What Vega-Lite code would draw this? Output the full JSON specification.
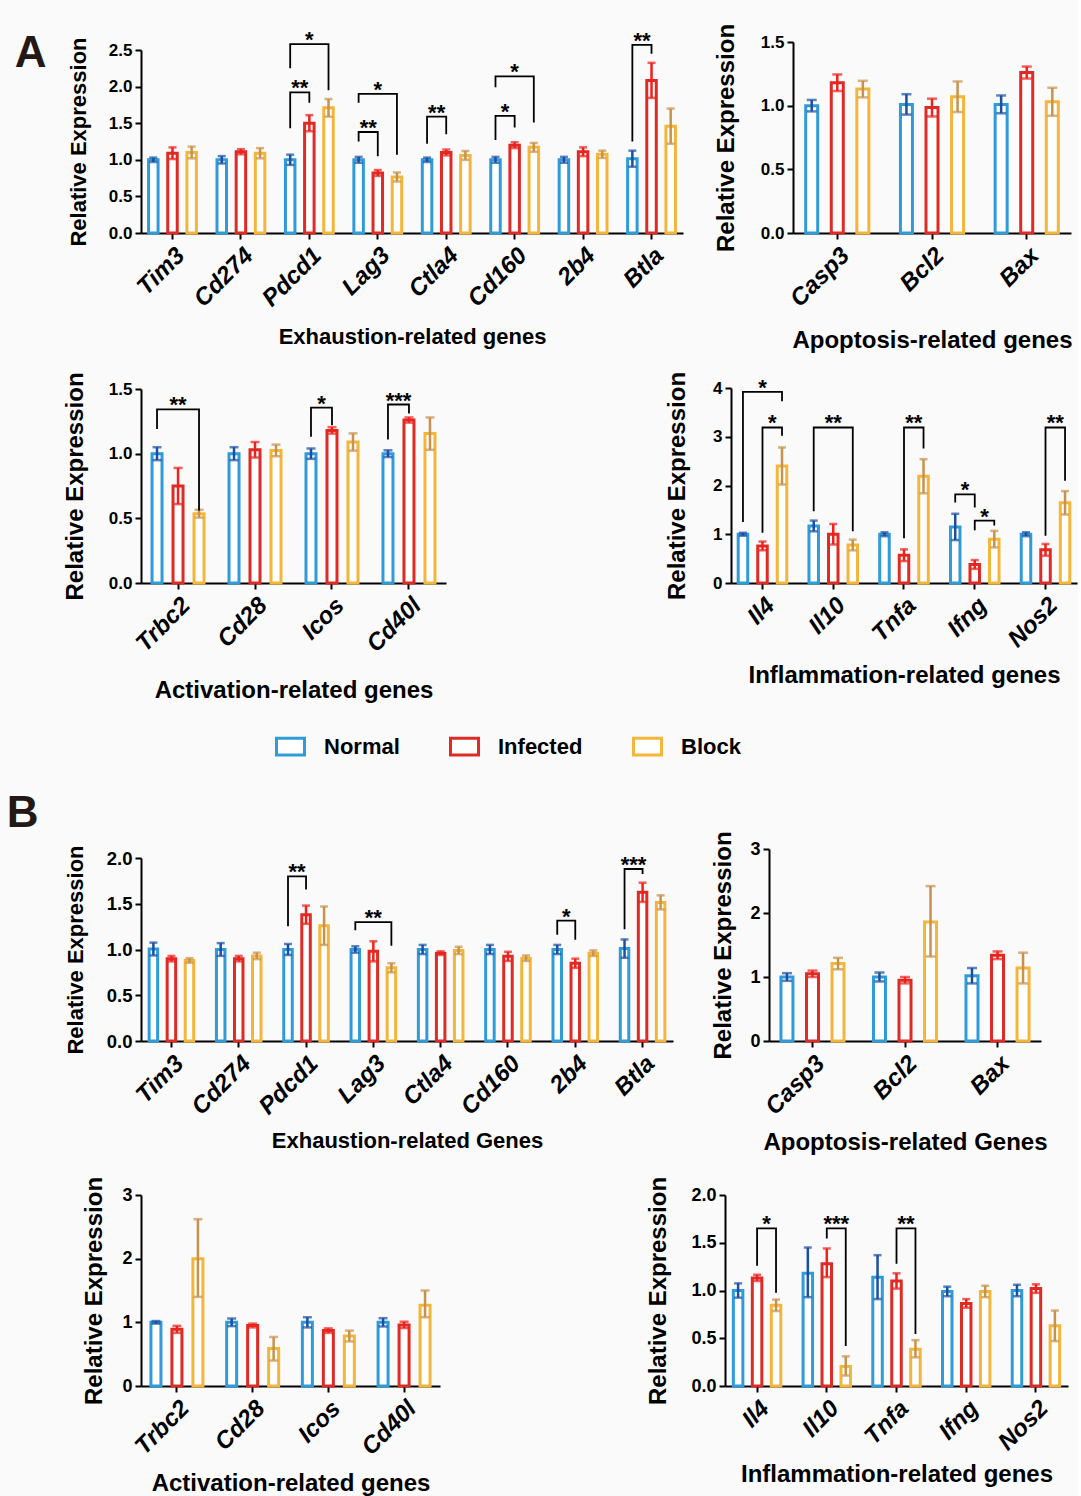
{
"$schema": "https://vega.github.io/schema/vega-lite/v6.json",
"background": "#fafafa",
"padding": {"left": 6, "top": 23, "right": 1, "bottom": 2},
"spacing": 89,
"resolve": {"scale": {"xOffset": "independent"}},
"datasets": {
"exhA": [
{"gene":"Tim3","group":"Normal","value":1.0,"lo":0.97,"hi":1.03},
{"gene":"Tim3","group":"Infected","value":1.09,"lo":1.01,"hi":1.17},
{"gene":"Tim3","group":"Block","value":1.10,"lo":1.02,"hi":1.18},
{"gene":"Cd274","group":"Normal","value":1.0,"lo":0.95,"hi":1.05},
{"gene":"Cd274","group":"Infected","value":1.11,"lo":1.075,"hi":1.145},
{"gene":"Cd274","group":"Block","value":1.09,"lo":1.02,"hi":1.16},
{"gene":"Pdcd1","group":"Normal","value":1.0,"lo":0.93,"hi":1.07},
{"gene":"Pdcd1","group":"Infected","value":1.50,"lo":1.39,"hi":1.61},
{"gene":"Pdcd1","group":"Block","value":1.71,"lo":1.59,"hi":1.83},
{"gene":"Lag3","group":"Normal","value":1.0,"lo":0.96,"hi":1.04},
{"gene":"Lag3","group":"Infected","value":0.82,"lo":0.78,"hi":0.86},
{"gene":"Lag3","group":"Block","value":0.765,"lo":0.705,"hi":0.825},
{"gene":"Ctla4","group":"Normal","value":1.0,"lo":0.97,"hi":1.03},
{"gene":"Ctla4","group":"Infected","value":1.10,"lo":1.06,"hi":1.14},
{"gene":"Ctla4","group":"Block","value":1.06,"lo":1.0,"hi":1.12},
{"gene":"Cd160","group":"Normal","value":1.0,"lo":0.96,"hi":1.04},
{"gene":"Cd160","group":"Infected","value":1.20,"lo":1.16,"hi":1.24},
{"gene":"Cd160","group":"Block","value":1.17,"lo":1.11,"hi":1.23},
{"gene":"2b4","group":"Normal","value":1.0,"lo":0.96,"hi":1.04},
{"gene":"2b4","group":"Infected","value":1.11,"lo":1.05,"hi":1.17},
{"gene":"2b4","group":"Block","value":1.075,"lo":1.025,"hi":1.125},
{"gene":"Btla","group":"Normal","value":1.015,"lo":0.905,"hi":1.125},
{"gene":"Btla","group":"Infected","value":2.085,"lo":1.845,"hi":2.325},
{"gene":"Btla","group":"Block","value":1.46,"lo":1.22,"hi":1.70}
],
"brExhA": [
{"id":"b1","gene":"Pdcd1","group":"Normal","value":1.43,"ord":1},
{"id":"b1","gene":"Pdcd1","group":"Normal","value":1.92,"ord":2},
{"id":"b1","gene":"Pdcd1","group":"Infected","value":1.92,"ord":3},
{"id":"b1","gene":"Pdcd1","group":"Infected","value":1.78,"ord":4},
{"id":"b2","gene":"Pdcd1","group":"Normal","value":2.25,"ord":1},
{"id":"b2","gene":"Pdcd1","group":"Normal","value":2.58,"ord":2},
{"id":"b2","gene":"Pdcd1","group":"Block","value":2.58,"ord":3},
{"id":"b2","gene":"Pdcd1","group":"Block","value":1.95,"ord":4},
{"id":"b3","gene":"Lag3","group":"Normal","value":1.25,"ord":1},
{"id":"b3","gene":"Lag3","group":"Normal","value":1.38,"ord":2},
{"id":"b3","gene":"Lag3","group":"Infected","value":1.38,"ord":3},
{"id":"b3","gene":"Lag3","group":"Infected","value":1.05,"ord":4},
{"id":"b4","gene":"Lag3","group":"Normal","value":1.78,"ord":1},
{"id":"b4","gene":"Lag3","group":"Normal","value":1.90,"ord":2},
{"id":"b4","gene":"Lag3","group":"Block","value":1.90,"ord":3},
{"id":"b4","gene":"Lag3","group":"Block","value":1.07,"ord":4},
{"id":"b5","gene":"Ctla4","group":"Normal","value":1.22,"ord":1},
{"id":"b5","gene":"Ctla4","group":"Normal","value":1.59,"ord":2},
{"id":"b5","gene":"Ctla4","group":"Infected","value":1.59,"ord":3},
{"id":"b5","gene":"Ctla4","group":"Infected","value":1.35,"ord":4},
{"id":"b6","gene":"Cd160","group":"Normal","value":1.27,"ord":1},
{"id":"b6","gene":"Cd160","group":"Normal","value":1.60,"ord":2},
{"id":"b6","gene":"Cd160","group":"Infected","value":1.60,"ord":3},
{"id":"b6","gene":"Cd160","group":"Infected","value":1.44,"ord":4},
{"id":"b7","gene":"Cd160","group":"Normal","value":1.99,"ord":1},
{"id":"b7","gene":"Cd160","group":"Normal","value":2.14,"ord":2},
{"id":"b7","gene":"Cd160","group":"Block","value":2.14,"ord":3},
{"id":"b7","gene":"Cd160","group":"Block","value":1.51,"ord":4},
{"id":"b8","gene":"Btla","group":"Normal","value":1.25,"ord":1},
{"id":"b8","gene":"Btla","group":"Normal","value":2.57,"ord":2},
{"id":"b8","gene":"Btla","group":"Infected","value":2.57,"ord":3},
{"id":"b8","gene":"Btla","group":"Infected","value":2.45,"ord":4}
],
"stExhA": [
{"gene":"Pdcd1","group":"NI","value":1.92,"label":"**"},
{"gene":"Pdcd1","group":"Infected","value":2.58,"label":"*"},
{"gene":"Lag3","group":"NI","value":1.38,"label":"**"},
{"gene":"Lag3","group":"Infected","value":1.90,"label":"*"},
{"gene":"Ctla4","group":"NI","value":1.59,"label":"**"},
{"gene":"Cd160","group":"NI","value":1.60,"label":"*"},
{"gene":"Cd160","group":"Infected","value":2.14,"label":"*"},
{"gene":"Btla","group":"NI","value":2.57,"label":"**"}
],
"apoA": [
{"gene":"Casp3","group":"Normal","value":1.0,"lo":0.955,"hi":1.045},
{"gene":"Casp3","group":"Infected","value":1.18,"lo":1.115,"hi":1.245},
{"gene":"Casp3","group":"Block","value":1.13,"lo":1.065,"hi":1.195},
{"gene":"Bcl2","group":"Normal","value":1.01,"lo":0.93,"hi":1.09},
{"gene":"Bcl2","group":"Infected","value":0.985,"lo":0.915,"hi":1.055},
{"gene":"Bcl2","group":"Block","value":1.07,"lo":0.95,"hi":1.19},
{"gene":"Bax","group":"Normal","value":1.01,"lo":0.94,"hi":1.08},
{"gene":"Bax","group":"Infected","value":1.26,"lo":1.213,"hi":1.307},
{"gene":"Bax","group":"Block","value":1.03,"lo":0.92,"hi":1.14}
],
"actA": [
{"gene":"Trbc2","group":"Normal","value":1.0,"lo":0.95,"hi":1.05},
{"gene":"Trbc2","group":"Infected","value":0.75,"lo":0.61,"hi":0.89},
{"gene":"Trbc2","group":"Block","value":0.536,"lo":0.506,"hi":0.566},
{"gene":"Cd28","group":"Normal","value":1.0,"lo":0.95,"hi":1.05},
{"gene":"Cd28","group":"Infected","value":1.03,"lo":0.97,"hi":1.09},
{"gene":"Cd28","group":"Block","value":1.025,"lo":0.98,"hi":1.07},
{"gene":"Icos","group":"Normal","value":1.0,"lo":0.96,"hi":1.04},
{"gene":"Icos","group":"Infected","value":1.18,"lo":1.155,"hi":1.205},
{"gene":"Icos","group":"Block","value":1.09,"lo":1.023,"hi":1.157},
{"gene":"Cd40l","group":"Normal","value":1.0,"lo":0.974,"hi":1.026},
{"gene":"Cd40l","group":"Infected","value":1.26,"lo":1.24,"hi":1.28},
{"gene":"Cd40l","group":"Block","value":1.155,"lo":1.03,"hi":1.28}
],
"brActA": [
{"id":"c1","gene":"Trbc2","group":"Normal","value":1.19,"ord":1},
{"id":"c1","gene":"Trbc2","group":"Normal","value":1.343,"ord":2},
{"id":"c1","gene":"Trbc2","group":"Block","value":1.343,"ord":3},
{"id":"c1","gene":"Trbc2","group":"Block","value":0.56,"ord":4},
{"id":"c2","gene":"Icos","group":"Normal","value":1.13,"ord":1},
{"id":"c2","gene":"Icos","group":"Normal","value":1.356,"ord":2},
{"id":"c2","gene":"Icos","group":"Infected","value":1.356,"ord":3},
{"id":"c2","gene":"Icos","group":"Infected","value":1.22,"ord":4},
{"id":"c3","gene":"Cd40l","group":"Normal","value":1.11,"ord":1},
{"id":"c3","gene":"Cd40l","group":"Normal","value":1.38,"ord":2},
{"id":"c3","gene":"Cd40l","group":"Infected","value":1.38,"ord":3},
{"id":"c3","gene":"Cd40l","group":"Infected","value":1.31,"ord":4}
],
"stActA": [
{"gene":"Trbc2","group":"Infected","value":1.343,"label":"**"},
{"gene":"Icos","group":"NI","value":1.356,"label":"*"},
{"gene":"Cd40l","group":"NI","value":1.38,"label":"***"}
],
"infA": [
{"gene":"Il4","group":"Normal","value":1.0,"lo":0.97,"hi":1.03},
{"gene":"Il4","group":"Infected","value":0.76,"lo":0.67,"hi":0.85},
{"gene":"Il4","group":"Block","value":2.40,"lo":2.02,"hi":2.78},
{"gene":"Il10","group":"Normal","value":1.17,"lo":1.06,"hi":1.28},
{"gene":"Il10","group":"Infected","value":1.0,"lo":0.79,"hi":1.21},
{"gene":"Il10","group":"Block","value":0.78,"lo":0.67,"hi":0.89},
{"gene":"Tnfa","group":"Normal","value":1.0,"lo":0.96,"hi":1.04},
{"gene":"Tnfa","group":"Infected","value":0.57,"lo":0.45,"hi":0.69},
{"gene":"Tnfa","group":"Block","value":2.19,"lo":1.84,"hi":2.54},
{"gene":"Ifng","group":"Normal","value":1.15,"lo":0.88,"hi":1.42},
{"gene":"Ifng","group":"Infected","value":0.38,"lo":0.29,"hi":0.47},
{"gene":"Ifng","group":"Block","value":0.90,"lo":0.73,"hi":1.07},
{"gene":"Nos2","group":"Normal","value":1.0,"lo":0.96,"hi":1.04},
{"gene":"Nos2","group":"Infected","value":0.68,"lo":0.56,"hi":0.80},
{"gene":"Nos2","group":"Block","value":1.645,"lo":1.405,"hi":1.885}
],
"brInfA": [
{"id":"d1","gene":"Il4","group":"Normal","value":1.25,"ord":1},
{"id":"d1","gene":"Il4","group":"Normal","value":3.92,"ord":2},
{"id":"d1","gene":"Il4","group":"Block","value":3.92,"ord":3},
{"id":"d1","gene":"Il4","group":"Block","value":3.73,"ord":4},
{"id":"d2","gene":"Il4","group":"Infected","value":1.03,"ord":1},
{"id":"d2","gene":"Il4","group":"Infected","value":3.19,"ord":2},
{"id":"d2","gene":"Il4","group":"Block","value":3.19,"ord":3},
{"id":"d2","gene":"Il4","group":"Block","value":3.02,"ord":4},
{"id":"d3","gene":"Il10","group":"Normal","value":1.47,"ord":1},
{"id":"d3","gene":"Il10","group":"Normal","value":3.19,"ord":2},
{"id":"d3","gene":"Il10","group":"Block","value":3.19,"ord":3},
{"id":"d3","gene":"Il10","group":"Block","value":1.06,"ord":4},
{"id":"d4","gene":"Tnfa","group":"Infected","value":0.92,"ord":1},
{"id":"d4","gene":"Tnfa","group":"Infected","value":3.19,"ord":2},
{"id":"d4","gene":"Tnfa","group":"Block","value":3.19,"ord":3},
{"id":"d4","gene":"Tnfa","group":"Block","value":2.76,"ord":4},
{"id":"d5","gene":"Ifng","group":"Normal","value":1.65,"ord":1},
{"id":"d5","gene":"Ifng","group":"Normal","value":1.82,"ord":2},
{"id":"d5","gene":"Ifng","group":"Infected","value":1.82,"ord":3},
{"id":"d5","gene":"Ifng","group":"Infected","value":1.55,"ord":4},
{"id":"d6","gene":"Ifng","group":"Infected","value":1.08,"ord":1},
{"id":"d6","gene":"Ifng","group":"Infected","value":1.28,"ord":2},
{"id":"d6","gene":"Ifng","group":"Block","value":1.28,"ord":3},
{"id":"d6","gene":"Ifng","group":"Block","value":1.18,"ord":4},
{"id":"d7","gene":"Nos2","group":"Infected","value":0.97,"ord":1},
{"id":"d7","gene":"Nos2","group":"Infected","value":3.19,"ord":2},
{"id":"d7","gene":"Nos2","group":"Block","value":3.19,"ord":3},
{"id":"d7","gene":"Nos2","group":"Block","value":2.10,"ord":4}
],
"stInfA": [
{"gene":"Il4","group":"Infected","value":3.92,"label":"*"},
{"gene":"Il4","group":"IB","value":3.19,"label":"*"},
{"gene":"Il10","group":"Infected","value":3.19,"label":"**"},
{"gene":"Tnfa","group":"IB","value":3.19,"label":"**"},
{"gene":"Ifng","group":"NI","value":1.82,"label":"*"},
{"gene":"Ifng","group":"IB","value":1.28,"label":"*"},
{"gene":"Nos2","group":"IB","value":3.19,"label":"**"}
],
"exhB": [
{"gene":"Tim3","group":"Normal","value":1.005,"lo":0.935,"hi":1.075},
{"gene":"Tim3","group":"Infected","value":0.90,"lo":0.87,"hi":0.93},
{"gene":"Tim3","group":"Block","value":0.88,"lo":0.855,"hi":0.905},
{"gene":"Cd274","group":"Normal","value":1.0,"lo":0.93,"hi":1.07},
{"gene":"Cd274","group":"Infected","value":0.90,"lo":0.87,"hi":0.93},
{"gene":"Cd274","group":"Block","value":0.93,"lo":0.895,"hi":0.965},
{"gene":"Pdcd1","group":"Normal","value":1.0,"lo":0.94,"hi":1.06},
{"gene":"Pdcd1","group":"Infected","value":1.38,"lo":1.28,"hi":1.48},
{"gene":"Pdcd1","group":"Block","value":1.26,"lo":1.05,"hi":1.47},
{"gene":"Lag3","group":"Normal","value":1.0,"lo":0.965,"hi":1.035},
{"gene":"Lag3","group":"Infected","value":0.98,"lo":0.87,"hi":1.09},
{"gene":"Lag3","group":"Block","value":0.80,"lo":0.75,"hi":0.85},
{"gene":"Ctla4","group":"Normal","value":1.0,"lo":0.95,"hi":1.05},
{"gene":"Ctla4","group":"Infected","value":0.96,"lo":0.94,"hi":0.98},
{"gene":"Ctla4","group":"Block","value":0.99,"lo":0.95,"hi":1.03},
{"gene":"Cd160","group":"Normal","value":1.0,"lo":0.95,"hi":1.05},
{"gene":"Cd160","group":"Infected","value":0.925,"lo":0.875,"hi":0.975},
{"gene":"Cd160","group":"Block","value":0.905,"lo":0.875,"hi":0.935},
{"gene":"2b4","group":"Normal","value":1.0,"lo":0.95,"hi":1.05},
{"gene":"2b4","group":"Infected","value":0.85,"lo":0.80,"hi":0.90},
{"gene":"2b4","group":"Block","value":0.96,"lo":0.93,"hi":0.99},
{"gene":"Btla","group":"Normal","value":1.01,"lo":0.91,"hi":1.11},
{"gene":"Btla","group":"Infected","value":1.625,"lo":1.52,"hi":1.73},
{"gene":"Btla","group":"Block","value":1.515,"lo":1.438,"hi":1.592}
],
"brExhB": [
{"id":"e1","gene":"Pdcd1","group":"Normal","value":1.255,"ord":1},
{"id":"e1","gene":"Pdcd1","group":"Normal","value":1.80,"ord":2},
{"id":"e1","gene":"Pdcd1","group":"Infected","value":1.80,"ord":3},
{"id":"e1","gene":"Pdcd1","group":"Infected","value":1.655,"ord":4},
{"id":"e2","gene":"Lag3","group":"Normal","value":1.21,"ord":1},
{"id":"e2","gene":"Lag3","group":"Normal","value":1.30,"ord":2},
{"id":"e2","gene":"Lag3","group":"Block","value":1.30,"ord":3},
{"id":"e2","gene":"Lag3","group":"Block","value":1.04,"ord":4},
{"id":"e3","gene":"2b4","group":"Normal","value":1.16,"ord":1},
{"id":"e3","gene":"2b4","group":"Normal","value":1.315,"ord":2},
{"id":"e3","gene":"2b4","group":"Infected","value":1.315,"ord":3},
{"id":"e3","gene":"2b4","group":"Infected","value":1.107,"ord":4},
{"id":"e4","gene":"Btla","group":"Normal","value":1.22,"ord":1},
{"id":"e4","gene":"Btla","group":"Normal","value":1.88,"ord":2},
{"id":"e4","gene":"Btla","group":"Infected","value":1.88,"ord":3},
{"id":"e4","gene":"Btla","group":"Infected","value":1.825,"ord":4}
],
"stExhB": [
{"gene":"Pdcd1","group":"NI","value":1.80,"label":"**"},
{"gene":"Lag3","group":"Infected","value":1.30,"label":"**"},
{"gene":"2b4","group":"NI","value":1.315,"label":"*"},
{"gene":"Btla","group":"NI","value":1.88,"label":"***"}
],
"apoB": [
{"gene":"Casp3","group":"Normal","value":1.0,"lo":0.94,"hi":1.06},
{"gene":"Casp3","group":"Infected","value":1.05,"lo":1.0,"hi":1.10},
{"gene":"Casp3","group":"Block","value":1.21,"lo":1.12,"hi":1.30},
{"gene":"Bcl2","group":"Normal","value":1.0,"lo":0.93,"hi":1.07},
{"gene":"Bcl2","group":"Infected","value":0.95,"lo":0.90,"hi":1.0},
{"gene":"Bcl2","group":"Block","value":1.86,"lo":1.32,"hi":2.42},
{"gene":"Bax","group":"Normal","value":1.02,"lo":0.90,"hi":1.14},
{"gene":"Bax","group":"Infected","value":1.34,"lo":1.28,"hi":1.40},
{"gene":"Bax","group":"Block","value":1.14,"lo":0.90,"hi":1.38}
],
"actB": [
{"gene":"Trbc2","group":"Normal","value":1.0,"lo":0.98,"hi":1.02},
{"gene":"Trbc2","group":"Infected","value":0.89,"lo":0.835,"hi":0.945},
{"gene":"Trbc2","group":"Block","value":2.0,"lo":1.40,"hi":2.62},
{"gene":"Cd28","group":"Normal","value":1.0,"lo":0.94,"hi":1.06},
{"gene":"Cd28","group":"Infected","value":0.95,"lo":0.92,"hi":0.98},
{"gene":"Cd28","group":"Block","value":0.59,"lo":0.40,"hi":0.77},
{"gene":"Icos","group":"Normal","value":1.0,"lo":0.92,"hi":1.08},
{"gene":"Icos","group":"Infected","value":0.87,"lo":0.835,"hi":0.905},
{"gene":"Icos","group":"Block","value":0.785,"lo":0.70,"hi":0.87},
{"gene":"Cd40l","group":"Normal","value":1.0,"lo":0.935,"hi":1.065},
{"gene":"Cd40l","group":"Infected","value":0.96,"lo":0.91,"hi":1.01},
{"gene":"Cd40l","group":"Block","value":1.27,"lo":1.08,"hi":1.50}
],
"infB": [
{"gene":"Il4","group":"Normal","value":1.0,"lo":0.925,"hi":1.075},
{"gene":"Il4","group":"Infected","value":1.13,"lo":1.10,"hi":1.165},
{"gene":"Il4","group":"Block","value":0.845,"lo":0.785,"hi":0.905},
{"gene":"Il10","group":"Normal","value":1.18,"lo":0.93,"hi":1.45},
{"gene":"Il10","group":"Infected","value":1.28,"lo":1.14,"hi":1.44},
{"gene":"Il10","group":"Block","value":0.205,"lo":0.11,"hi":0.31},
{"gene":"Tnfa","group":"Normal","value":1.14,"lo":0.91,"hi":1.37},
{"gene":"Tnfa","group":"Infected","value":1.10,"lo":1.02,"hi":1.18},
{"gene":"Tnfa","group":"Block","value":0.385,"lo":0.30,"hi":0.48},
{"gene":"Ifng","group":"Normal","value":0.99,"lo":0.94,"hi":1.04},
{"gene":"Ifng","group":"Infected","value":0.865,"lo":0.82,"hi":0.91},
{"gene":"Ifng","group":"Block","value":0.99,"lo":0.93,"hi":1.05},
{"gene":"Nos2","group":"Normal","value":1.0,"lo":0.94,"hi":1.06},
{"gene":"Nos2","group":"Infected","value":1.02,"lo":0.975,"hi":1.065},
{"gene":"Nos2","group":"Block","value":0.63,"lo":0.47,"hi":0.79}
],
"brInfB": [
{"id":"f1","gene":"Il4","group":"Infected","value":1.26,"ord":1},
{"id":"f1","gene":"Il4","group":"Infected","value":1.65,"ord":2},
{"id":"f1","gene":"Il4","group":"Block","value":1.65,"ord":3},
{"id":"f1","gene":"Il4","group":"Block","value":0.976,"ord":4},
{"id":"f2","gene":"Il10","group":"Infected","value":1.545,"ord":1},
{"id":"f2","gene":"Il10","group":"Infected","value":1.65,"ord":2},
{"id":"f2","gene":"Il10","group":"Block","value":1.65,"ord":3},
{"id":"f2","gene":"Il10","group":"Block","value":0.42,"ord":4},
{"id":"f3","gene":"Tnfa","group":"Infected","value":1.28,"ord":1},
{"id":"f3","gene":"Tnfa","group":"Infected","value":1.65,"ord":2},
{"id":"f3","gene":"Tnfa","group":"Block","value":1.65,"ord":3},
{"id":"f3","gene":"Tnfa","group":"Block","value":0.545,"ord":4}
],
"stInfB": [
{"gene":"Il4","group":"IB","value":1.65,"label":"*"},
{"gene":"Il10","group":"IB","value":1.65,"label":"***"},
{"gene":"Tnfa","group":"IB","value":1.65,"label":"**"}
]
},
"vconcat": [
{
"title": {"text": "A", "orient": "left", "anchor": "end", "angle": 0, "align": "right", "baseline": "top", "fontSize": 44, "font": "Liberation Sans", "fontWeight": "bold", "color": "#231815", "offset": -15, "frame": "group", "dy": -10},
"spacing": 18,
"resolve": {"scale": {"xOffset": "independent"}},
"vconcat": [
{"spacing": 31, "resolve": {"scale": {"xOffset": "independent"}}, "hconcat": [
{
"width": 542, "height": 191,
"data": {"name": "exhA"},
"encoding": {
"x": {"field": "gene", "type": "nominal", "sort": ["Tim3","Cd274","Pdcd1","Lag3","Ctla4","Cd160","2b4","Btla"], "title": "Exhaustion-related genes", "scale": {"paddingInner": 0.3, "paddingOuter": 0.11}, "axis": {"titleFontSize": 22, "titlePadding": 16}},
"xOffset": {"field": "group", "type": "nominal", "scale": {"domain": ["Normal","NI","Infected","IB","Block"], "paddingInner": 0, "paddingOuter": 0}},
"y": {"field": "value", "type": "quantitative", "title": "Relative Expression", "scale": {"domain": [0, 2.5], "range": [191, 8]}, "axis": {"values": [0,0.5,1,1.5,2,2.5], "format": ".1f", "titleFontSize": 22, "titlePadding": 18}}
},
"layer": [
{"mark": {"type": "bar", "width": 9.5, "fill": "white", "strokeWidth": 3}, "encoding": {"stroke": {"field": "group", "type": "nominal", "title": null, "scale": {"domain": ["Normal","Infected","Block"], "range": ["#2f9bd8","#dd2b25","#f4b63a"]}}}},
{"mark": {"type": "rule", "strokeWidth": 2.5}, "encoding": {"y": {"field": "lo", "type": "quantitative", "title": "Relative Expression", "scale": {"domain": [0, 2.5], "range": [191, 8]}}, "y2": {"field": "hi"}, "color": {"field": "group", "type": "nominal", "sort": ["Normal","Infected","Block"], "legend": null, "scale": {"range": ["#1a4fa3","#f0201b","#c8924c"]}}}},
{"mark": {"type": "tick", "thickness": 2.5, "size": 8}, "encoding": {"y": {"field": "lo", "type": "quantitative", "title": "Relative Expression", "scale": {"domain": [0, 2.5], "range": [191, 8]}}, "color": {"field": "group", "type": "nominal", "sort": ["Normal","Infected","Block"], "legend": null}}},
{"mark": {"type": "tick", "thickness": 2.5, "size": 8}, "encoding": {"y": {"field": "hi", "type": "quantitative", "title": "Relative Expression", "scale": {"domain": [0, 2.5], "range": [191, 8]}}, "color": {"field": "group", "type": "nominal", "sort": ["Normal","Infected","Block"], "legend": null}}},
{"data": {"name": "brExhA"}, "mark": {"type": "line", "color": "black", "strokeWidth": 1.8}, "encoding": {"detail": {"field": "id"}, "order": {"field": "ord"}}},
{"data": {"name": "stExhA"}, "mark": {"type": "text", "fontSize": 22, "fontWeight": "bold", "baseline": "alphabetic", "dy": 3, "color": "black"}, "encoding": {"text": {"field": "label"}}}
]
},
{
"width": 278, "height": 191,
"data": {"name": "apoA"},
"encoding": {
"x": {"field": "gene", "type": "nominal", "sort": ["Casp3","Bcl2","Bax"], "title": "Apoptosis-related genes", "scale": {"paddingInner": 0.325, "paddingOuter": 0.13}, "axis": {"titlePadding": 18}},
"xOffset": {"field": "group", "type": "nominal", "scale": {"domain": ["Normal","NI","Infected","IB","Block"], "paddingInner": 0, "paddingOuter": 0}},
"y": {"field": "value", "type": "quantitative", "title": "Relative Expression", "scale": {"domain": [0, 1.5]}, "axis": {"values": [0,0.5,1,1.5], "format": ".1f", "titlePadding": 22}}
},
"layer": [
{"mark": {"type": "bar", "width": 12, "fill": "white", "strokeWidth": 3}, "encoding": {"stroke": {"field": "group", "type": "nominal", "title": null, "scale": {"domain": ["Normal","Infected","Block"], "range": ["#2f9bd8","#dd2b25","#f4b63a"]}}}},
{"mark": {"type": "rule", "strokeWidth": 2.5}, "encoding": {"y": {"field": "lo", "type": "quantitative", "title": "Relative Expression", "scale": {"domain": [0, 1.5]}}, "y2": {"field": "hi"}, "color": {"field": "group", "type": "nominal", "sort": ["Normal","Infected","Block"], "legend": null, "scale": {"range": ["#1a4fa3","#f0201b","#c8924c"]}}}},
{"mark": {"type": "tick", "thickness": 2.5, "size": 10}, "encoding": {"y": {"field": "lo", "type": "quantitative", "title": "Relative Expression", "scale": {"domain": [0, 1.5]}}, "color": {"field": "group", "type": "nominal", "sort": ["Normal","Infected","Block"], "legend": null}}},
{"mark": {"type": "tick", "thickness": 2.5, "size": 10}, "encoding": {"y": {"field": "hi", "type": "quantitative", "title": "Relative Expression", "scale": {"domain": [0, 1.5]}}, "color": {"field": "group", "type": "nominal", "sort": ["Normal","Infected","Block"], "legend": null}}}
]
}
]},
{"spacing": 219, "resolve": {"scale": {"xOffset": "independent"}}, "hconcat": [
{
"width": 305, "height": 195,
"data": {"name": "actA"},
"encoding": {
"x": {"field": "gene", "type": "nominal", "sort": ["Trbc2","Cd28","Icos","Cd40l"], "title": "Activation-related genes", "scale": {"paddingInner": 0.318, "paddingOuter": 0.14}, "axis": {"titlePadding": 22}},
"xOffset": {"field": "group", "type": "nominal", "scale": {"domain": ["Normal","NI","Infected","IB","Block"], "paddingInner": 0, "paddingOuter": 0}},
"y": {"field": "value", "type": "quantitative", "title": "Relative Expression", "scale": {"domain": [0, 1.5], "range": [195, 1]}, "axis": {"values": [0,0.5,1,1.5], "format": ".1f", "titlePadding": 21}}
},
"layer": [
{"mark": {"type": "bar", "width": 10, "fill": "white", "strokeWidth": 3}, "encoding": {"stroke": {"field": "group", "type": "nominal", "title": null, "scale": {"domain": ["Normal","Infected","Block"], "range": ["#2f9bd8","#dd2b25","#f4b63a"]}}}},
{"mark": {"type": "rule", "strokeWidth": 2.5}, "encoding": {"y": {"field": "lo", "type": "quantitative", "title": "Relative Expression", "scale": {"domain": [0, 1.5], "range": [195, 1]}}, "y2": {"field": "hi"}, "color": {"field": "group", "type": "nominal", "sort": ["Normal","Infected","Block"], "legend": null, "scale": {"range": ["#1a4fa3","#f0201b","#c8924c"]}}}},
{"mark": {"type": "tick", "thickness": 2.5, "size": 9}, "encoding": {"y": {"field": "lo", "type": "quantitative", "title": "Relative Expression", "scale": {"domain": [0, 1.5], "range": [195, 1]}}, "color": {"field": "group", "type": "nominal", "sort": ["Normal","Infected","Block"], "legend": null}}},
{"mark": {"type": "tick", "thickness": 2.5, "size": 9}, "encoding": {"y": {"field": "hi", "type": "quantitative", "title": "Relative Expression", "scale": {"domain": [0, 1.5], "range": [195, 1]}}, "color": {"field": "group", "type": "nominal", "sort": ["Normal","Infected","Block"], "legend": null}}},
{"data": {"name": "brActA"}, "mark": {"type": "line", "color": "black", "strokeWidth": 1.8}, "encoding": {"detail": {"field": "id"}, "order": {"field": "ord"}}},
{"data": {"name": "stActA"}, "mark": {"type": "text", "fontSize": 22, "fontWeight": "bold", "baseline": "alphabetic", "dy": 3, "color": "black"}, "encoding": {"text": {"field": "label"}}}
]
},
{
"width": 346, "height": 195,
"data": {"name": "infA"},
"encoding": {
"x": {"field": "gene", "type": "nominal", "sort": ["Il4","Il10","Tnfa","Ifng","Nos2"], "title": "Inflammation-related genes", "scale": {"paddingInner": 0.31, "paddingOuter": 0.1}},
"xOffset": {"field": "group", "type": "nominal", "scale": {"domain": ["Normal","NI","Infected","IB","Block"], "paddingInner": 0, "paddingOuter": 0}},
"y": {"field": "value", "type": "quantitative", "title": "Relative Expression", "scale": {"domain": [0, 4]}, "axis": {"values": [0,1,2,3,4], "format": "d", "titlePadding": 23}}
},
"layer": [
{"mark": {"type": "bar", "width": 9.5, "fill": "white", "strokeWidth": 3}, "encoding": {"stroke": {"field": "group", "type": "nominal", "title": null, "scale": {"domain": ["Normal","Infected","Block"], "range": ["#2f9bd8","#dd2b25","#f4b63a"]}}}},
{"mark": {"type": "rule", "strokeWidth": 2.5}, "encoding": {"y": {"field": "lo", "type": "quantitative", "title": "Relative Expression", "scale": {"domain": [0, 4]}}, "y2": {"field": "hi"}, "color": {"field": "group", "type": "nominal", "sort": ["Normal","Infected","Block"], "legend": null, "scale": {"range": ["#1a4fa3","#f0201b","#c8924c"]}}}},
{"mark": {"type": "tick", "thickness": 2.5, "size": 8}, "encoding": {"y": {"field": "lo", "type": "quantitative", "title": "Relative Expression", "scale": {"domain": [0, 4]}}, "color": {"field": "group", "type": "nominal", "sort": ["Normal","Infected","Block"], "legend": null}}},
{"mark": {"type": "tick", "thickness": 2.5, "size": 8}, "encoding": {"y": {"field": "hi", "type": "quantitative", "title": "Relative Expression", "scale": {"domain": [0, 4]}}, "color": {"field": "group", "type": "nominal", "sort": ["Normal","Infected","Block"], "legend": null}}},
{"data": {"name": "brInfA"}, "mark": {"type": "line", "color": "black", "strokeWidth": 1.8}, "encoding": {"detail": {"field": "id"}, "order": {"field": "ord"}}},
{"data": {"name": "stInfA"}, "mark": {"type": "text", "fontSize": 22, "fontWeight": "bold", "baseline": "alphabetic", "dy": 3, "color": "black"}, "encoding": {"text": {"field": "label"}}}
]
}
]}
]
},
{
"title": {"text": "B", "orient": "left", "anchor": "end", "angle": 0, "align": "right", "baseline": "top", "fontSize": 44, "font": "Liberation Sans", "fontWeight": "bold", "color": "#231815", "offset": -6, "frame": "group", "dy": -57},
"spacing": 21,
"resolve": {"scale": {"xOffset": "independent"}},
"vconcat": [
{"spacing": 38, "resolve": {"scale": {"xOffset": "independent"}}, "hconcat": [
{
"width": 532, "height": 192,
"data": {"name": "exhB"},
"encoding": {
"x": {"field": "gene", "type": "nominal", "sort": ["Tim3","Cd274","Pdcd1","Lag3","Ctla4","Cd160","2b4","Btla"], "title": "Exhaustion-related Genes", "scale": {"paddingInner": 0.33, "paddingOuter": 0.117}, "axis": {"titleFontSize": 22}},
"xOffset": {"field": "group", "type": "nominal", "scale": {"domain": ["Normal","NI","Infected","IB","Block"], "paddingInner": 0, "paddingOuter": 0}},
"y": {"field": "value", "type": "quantitative", "title": "Relative Expression", "scale": {"domain": [0, 2], "range": [192, 9]}, "axis": {"values": [0,0.5,1,1.5,2], "format": ".1f", "titleFontSize": 22, "labelFontSize": 18.5, "titlePadding": 19}}
},
"layer": [
{"mark": {"type": "bar", "width": 8.5, "fill": "white", "strokeWidth": 3}, "encoding": {"stroke": {"field": "group", "type": "nominal", "title": null, "scale": {"domain": ["Normal","Infected","Block"], "range": ["#2f9bd8","#dd2b25","#f4b63a"]}}}},
{"mark": {"type": "rule", "strokeWidth": 2.5}, "encoding": {"y": {"field": "lo", "type": "quantitative", "title": "Relative Expression", "scale": {"domain": [0, 2], "range": [192, 9]}}, "y2": {"field": "hi"}, "color": {"field": "group", "type": "nominal", "sort": ["Normal","Infected","Block"], "legend": null, "scale": {"range": ["#1a4fa3","#f0201b","#c8924c"]}}}},
{"mark": {"type": "tick", "thickness": 2.5, "size": 8}, "encoding": {"y": {"field": "lo", "type": "quantitative", "title": "Relative Expression", "scale": {"domain": [0, 2], "range": [192, 9]}}, "color": {"field": "group", "type": "nominal", "sort": ["Normal","Infected","Block"], "legend": null}}},
{"mark": {"type": "tick", "thickness": 2.5, "size": 8}, "encoding": {"y": {"field": "hi", "type": "quantitative", "title": "Relative Expression", "scale": {"domain": [0, 2], "range": [192, 9]}}, "color": {"field": "group", "type": "nominal", "sort": ["Normal","Infected","Block"], "legend": null}}},
{"data": {"name": "brExhB"}, "mark": {"type": "line", "color": "black", "strokeWidth": 1.8}, "encoding": {"detail": {"field": "id"}, "order": {"field": "ord"}}},
{"data": {"name": "stExhB"}, "mark": {"type": "text", "fontSize": 22, "fontWeight": "bold", "baseline": "alphabetic", "dy": 3, "color": "black"}, "encoding": {"text": {"field": "label"}}}
]
},
{
"width": 272, "height": 192,
"data": {"name": "apoB"},
"encoding": {
"x": {"field": "gene", "type": "nominal", "sort": ["Casp3","Bcl2","Bax"], "title": "Apoptosis-related Genes", "scale": {"paddingInner": 0.31, "paddingOuter": 0.125}},
"xOffset": {"field": "group", "type": "nominal", "scale": {"domain": ["Normal","NI","Infected","IB","Block"], "paddingInner": 0, "paddingOuter": 0}},
"y": {"field": "value", "type": "quantitative", "title": "Relative Expression", "scale": {"domain": [0, 3]}, "axis": {"values": [0,1,2,3], "format": "d", "labelFontSize": 18, "titlePadding": 14}}
},
"layer": [
{"mark": {"type": "bar", "width": 12, "fill": "white", "strokeWidth": 3}, "encoding": {"stroke": {"field": "group", "type": "nominal", "title": null, "scale": {"domain": ["Normal","Infected","Block"], "range": ["#2f9bd8","#dd2b25","#f4b63a"]}}}},
{"mark": {"type": "rule", "strokeWidth": 2.5}, "encoding": {"y": {"field": "lo", "type": "quantitative", "title": "Relative Expression", "scale": {"domain": [0, 3]}}, "y2": {"field": "hi"}, "color": {"field": "group", "type": "nominal", "sort": ["Normal","Infected","Block"], "legend": null, "scale": {"range": ["#1a4fa3","#f0201b","#c8924c"]}}}},
{"mark": {"type": "tick", "thickness": 2.5, "size": 10}, "encoding": {"y": {"field": "lo", "type": "quantitative", "title": "Relative Expression", "scale": {"domain": [0, 3]}}, "color": {"field": "group", "type": "nominal", "sort": ["Normal","Infected","Block"], "legend": null}}},
{"mark": {"type": "tick", "thickness": 2.5, "size": 10}, "encoding": {"y": {"field": "hi", "type": "quantitative", "title": "Relative Expression", "scale": {"domain": [0, 3]}}, "color": {"field": "group", "type": "nominal", "sort": ["Normal","Infected","Block"], "legend": null}}}
]
}
]},
{"spacing": 206, "resolve": {"scale": {"xOffset": "independent"}}, "hconcat": [
{
"width": 299, "height": 191,
"data": {"name": "actB"},
"encoding": {
"x": {"field": "gene", "type": "nominal", "sort": ["Trbc2","Cd28","Icos","Cd40l"], "title": "Activation-related genes", "scale": {"paddingInner": 0.307, "paddingOuter": 0.128}},
"xOffset": {"field": "group", "type": "nominal", "scale": {"domain": ["Normal","NI","Infected","IB","Block"], "paddingInner": 0, "paddingOuter": 0}},
"y": {"field": "value", "type": "quantitative", "title": "Relative Expression", "scale": {"domain": [0, 3]}, "axis": {"values": [0,1,2,3], "format": "d", "labelFontSize": 18, "titlePadding": 15}}
},
"layer": [
{"mark": {"type": "bar", "width": 10, "fill": "white", "strokeWidth": 3}, "encoding": {"stroke": {"field": "group", "type": "nominal", "title": null, "scale": {"domain": ["Normal","Infected","Block"], "range": ["#2f9bd8","#dd2b25","#f4b63a"]}}}},
{"mark": {"type": "rule", "strokeWidth": 2.5}, "encoding": {"y": {"field": "lo", "type": "quantitative", "title": "Relative Expression", "scale": {"domain": [0, 3]}}, "y2": {"field": "hi"}, "color": {"field": "group", "type": "nominal", "sort": ["Normal","Infected","Block"], "legend": null, "scale": {"range": ["#1a4fa3","#f0201b","#c8924c"]}}}},
{"mark": {"type": "tick", "thickness": 2.5, "size": 9}, "encoding": {"y": {"field": "lo", "type": "quantitative", "title": "Relative Expression", "scale": {"domain": [0, 3]}}, "color": {"field": "group", "type": "nominal", "sort": ["Normal","Infected","Block"], "legend": null}}},
{"mark": {"type": "tick", "thickness": 2.5, "size": 9}, "encoding": {"y": {"field": "hi", "type": "quantitative", "title": "Relative Expression", "scale": {"domain": [0, 3]}}, "color": {"field": "group", "type": "nominal", "sort": ["Normal","Infected","Block"], "legend": null}}}
]
},
{
"width": 343, "height": 191,
"data": {"name": "infB"},
"encoding": {
"x": {"field": "gene", "type": "nominal", "sort": ["Il4","Il10","Tnfa","Ifng","Nos2"], "title": "Inflammation-related genes", "scale": {"paddingInner": 0.32, "paddingOuter": 0.12}, "axis": {"titlePadding": 8}},
"xOffset": {"field": "group", "type": "nominal", "scale": {"domain": ["Normal","NI","Infected","IB","Block"], "paddingInner": 0, "paddingOuter": 0}},
"y": {"field": "value", "type": "quantitative", "title": "Relative Expression", "scale": {"domain": [0, 2]}, "axis": {"values": [0,0.5,1,1.5,2], "format": ".1f", "labelFontSize": 18, "titlePadding": 20}}
},
"layer": [
{"mark": {"type": "bar", "width": 9.5, "fill": "white", "strokeWidth": 3}, "encoding": {"stroke": {"field": "group", "type": "nominal", "title": null, "scale": {"domain": ["Normal","Infected","Block"], "range": ["#2f9bd8","#dd2b25","#f4b63a"]}}}},
{"mark": {"type": "rule", "strokeWidth": 2.5}, "encoding": {"y": {"field": "lo", "type": "quantitative", "title": "Relative Expression", "scale": {"domain": [0, 2]}}, "y2": {"field": "hi"}, "color": {"field": "group", "type": "nominal", "sort": ["Normal","Infected","Block"], "legend": null, "scale": {"range": ["#1a4fa3","#f0201b","#c8924c"]}}}},
{"mark": {"type": "tick", "thickness": 2.5, "size": 8}, "encoding": {"y": {"field": "lo", "type": "quantitative", "title": "Relative Expression", "scale": {"domain": [0, 2]}}, "color": {"field": "group", "type": "nominal", "sort": ["Normal","Infected","Block"], "legend": null}}},
{"mark": {"type": "tick", "thickness": 2.5, "size": 8}, "encoding": {"y": {"field": "hi", "type": "quantitative", "title": "Relative Expression", "scale": {"domain": [0, 2]}}, "color": {"field": "group", "type": "nominal", "sort": ["Normal","Infected","Block"], "legend": null}}},
{"data": {"name": "brInfB"}, "mark": {"type": "line", "color": "black", "strokeWidth": 1.8}, "encoding": {"detail": {"field": "id"}, "order": {"field": "ord"}}},
{"data": {"name": "stInfB"}, "mark": {"type": "text", "fontSize": 22, "fontWeight": "bold", "baseline": "alphabetic", "dy": 3, "color": "black"}, "encoding": {"text": {"field": "label"}}}
]
}
]}
]
}
],
"config": {
"view": {"stroke": null},
"font": "Liberation Sans",
"axis": {"domainColor": "black", "domainWidth": 2, "tickColor": "black", "tickWidth": 2, "tickSize": 6, "labelColor": "black", "labelFont": "Liberation Sans", "labelFontWeight": "bold", "titleColor": "black", "titleFont": "Liberation Sans", "titleFontWeight": "bold", "grid": false, "labelPadding": 3},
"axisX": {"labelAngle": -45, "labelFontStyle": "italic", "labelFontSize": 24, "titleFontSize": 24, "titlePadding": 12, "labelPadding": 4},
"axisY": {"labelFontSize": 17, "titleFontSize": 24, "titlePadding": 18},
"legend": {"orient": "none", "legendX": 134, "legendY": 689, "direction": "horizontal", "labelFont": "Liberation Sans", "labelFontWeight": "bold", "labelFontSize": 22, "labelColor": "black", "symbolType": "M-1,-0.6H1V0.6H-1Z", "symbolSize": 784, "symbolStrokeWidth": 3, "symbolFillColor": "white", "labelOffset": 18, "columnPadding": 44, "padding": 0, "labelLimit": 300}
}
}
